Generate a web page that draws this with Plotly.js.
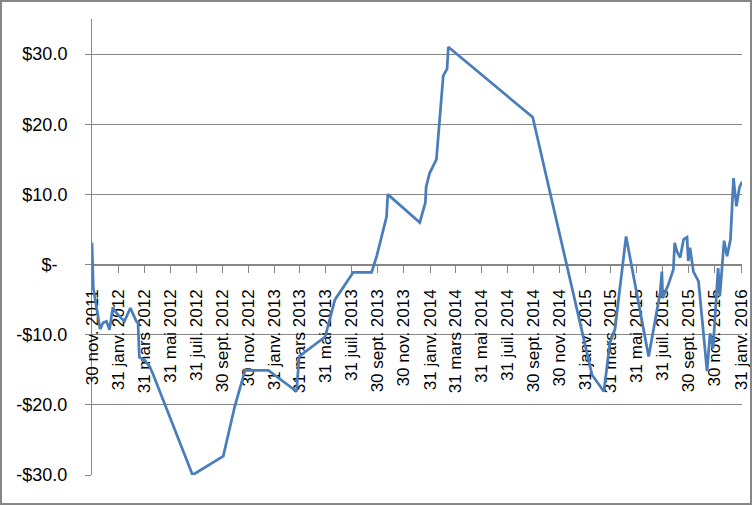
<!DOCTYPE html>
<html>
<head>
<meta charset="utf-8">
<script src="https://cdn.plot.ly/plotly-3.0.1.min.js"></script>
<style>
  html, body { margin: 0; padding: 0; background: #fff; }
  #wrap { position: relative; width: 752px; height: 505px; }
  #chart { position: absolute; left: 0; top: 0; width: 752px; height: 505px; }
  #frame { position: absolute; left: 0; top: 0; width: 752px; height: 505px; box-sizing: border-box; border: 2px solid #868686; pointer-events: none; }
</style>
</head>
<body>
<div id="wrap"><div id="chart"></div><div id="frame"></div></div>
<script>
const dates = [
  '2011-11-30','2011-12-03','2011-12-19','2011-12-26','2012-01-03','2012-01-10','2012-01-18','2012-01-25',
  '2012-02-04','2012-02-14','2012-02-28','2012-03-08','2012-03-13','2012-03-17','2012-03-20','2012-04-01',
  '2012-04-13','2012-04-21','2012-07-23','2012-10-03','2012-10-30','2012-11-23','2013-01-17','2013-03-24',
  '2013-03-30','2013-05-30','2013-06-14','2013-06-22','2013-08-04','2013-09-16','2013-09-28','2013-10-21',
  '2013-10-24','2014-01-07','2014-01-20','2014-01-22','2014-01-30','2014-02-15','2014-03-03','2014-03-12',
  '2014-03-15','2014-09-29','2015-02-15','2015-03-15','2015-03-29','2015-04-10','2015-05-06','2015-06-28',
  '2015-07-25','2015-07-29','2015-07-31','2015-08-13','2015-08-25','2015-08-28','2015-09-02','2015-09-10',
  '2015-09-18','2015-09-26','2015-09-29','2015-10-03','2015-10-11','2015-10-23','2015-11-12','2015-11-19',
  '2015-11-26','2015-12-08','2015-12-12','2015-12-22','2015-12-29','2016-01-06','2016-01-13','2016-01-20',
  '2016-01-27','2016-02-02'
];
const values = [
  3.1,-3.3,-9.2,-8.3,-8.1,-9.3,-6.1,-6.8,
  -7.5,-8.1,-6.2,-7.6,-8.1,-8.3,-13.2,-13.6,
  -14.5,-15.6,-30.0,-27.3,-20.2,-15.1,-15.1,-18.1,
  -13.1,-10.3,-6.9,-5.0,-1.1,-1.1,1.2,6.8,
  10.0,6.0,8.8,11.1,13.0,15.0,26.9,27.9,
  31.0,21.0,-15.7,-18.1,-11.2,-9.2,4.0,-13.1,
  -4.0,-1.0,-4.8,-2.9,-0.7,3.1,1.9,1.0,
  3.6,3.9,0.5,2.4,-1.0,-2.4,-15.2,-9.8,
  -12.0,-0.5,-4.5,3.4,1.2,3.6,12.3,8.3,
  11.0,11.8
];
const xTickVals = [
  '2011-11-30','2012-01-31','2012-03-31','2012-05-31','2012-07-31','2012-09-30','2012-11-30',
  '2013-01-31','2013-03-31','2013-05-31','2013-07-31','2013-09-30','2013-11-30',
  '2014-01-31','2014-03-31','2014-05-31','2014-07-31','2014-09-30','2014-11-30',
  '2015-01-31','2015-03-31','2015-05-31','2015-07-31','2015-09-30','2015-11-30','2016-01-31'
];
const xTickText = [
  '30 nov. 2011','31 janv. 2012','31 mars 2012','31 mai 2012','31 juil. 2012','30 sept. 2012','30 nov. 2012',
  '31 janv. 2013','31 mars 2013','31 mai 2013','31 juil. 2013','30 sept. 2013','30 nov. 2013',
  '31 janv. 2014','31 mars 2014','31 mai 2014','31 juil. 2014','30 sept. 2014','30 nov. 2014',
  '31 janv. 2015','31 mars 2015','31 mai 2015','31 juil. 2015','30 sept. 2015','30 nov. 2015','31 janv. 2016'
];
const yTickVals = [-30, -20, -10, 0, 10, 20, 30];
const yTickText = ['-$30.0', '-$20.0', '-$10.0', '$-\u00a0\u00a0', '$10.0', '$20.0', '$30.0'];

const trace = {
  x: dates, y: values, type: 'scatter', mode: 'lines',
  line: { color: '#4a7ebb', width: 2.75 },
  hoverinfo: 'none'
};

const layout = {
  width: 752, height: 505,
  margin: { l: 92, r: 10, t: 19, b: 30, pad: 0 },
  paper_bgcolor: '#ffffff', plot_bgcolor: '#ffffff',
  showlegend: false,
  font: { family: 'Liberation Sans, Arial, sans-serif', color: '#000000' },
  xaxis: {
    type: 'date',
    range: ['2011-11-30', '2016-02-02'],
    tickmode: 'array', tickvals: xTickVals, ticktext: xTickText,
    tickangle: -90,
    tickfont: { size: 17, color: '#000000' },
    ticks: 'outside', ticklen: 7, tickwidth: 1, tickcolor: '#868686',
    ticklabelstandoff: 10,
    showgrid: false, zeroline: false,
    showline: true, linecolor: '#868686', linewidth: 1,
    anchor: 'free', position: 30 / 65,
    layer: 'below traces',
    fixedrange: true
  },
  yaxis: {
    range: [-30, 35],
    tickmode: 'array', tickvals: yTickVals, ticktext: yTickText,
    tickfont: { size: 18, color: '#000000' },
    ticks: 'outside', ticklen: 6, tickwidth: 1, tickcolor: '#868686',
    ticklabelstandoff: 14,
    showgrid: true, gridcolor: '#868686', gridwidth: 1,
    zeroline: false,
    showline: true, linecolor: '#868686', linewidth: 1,
    layer: 'below traces',
    fixedrange: true
  }
};

Plotly.newPlot('chart', [trace], layout, { staticPlot: true, displayModeBar: false });
</script>
</body>
</html>
